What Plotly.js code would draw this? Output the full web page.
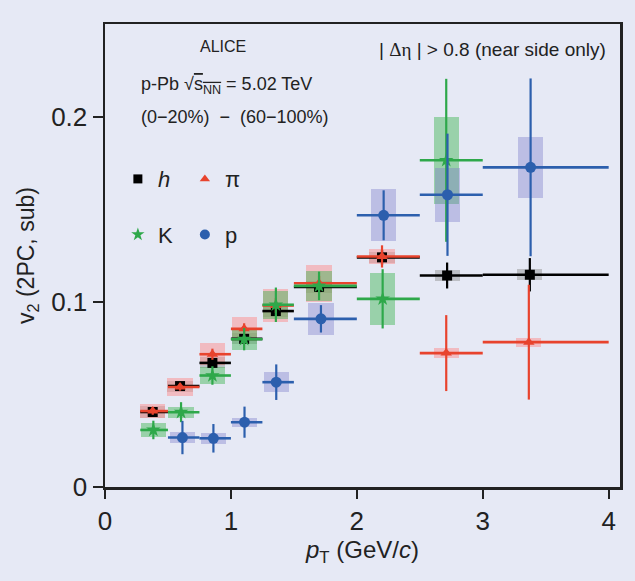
<!DOCTYPE html>
<html>
<head>
<meta charset="utf-8">
<script src="https://cdn.plot.ly/plotly-3.0.1.min.js"></script>
<style>html,body{margin:0;padding:0;background:#e6e9f5;}</style>
</head>
<body>
<div id="chart" style="width:635px;height:581px;"></div>
<script>
// bin edges (GeV/c)
const binLo = [0.28, 0.5, 0.75, 1.0, 1.25, 1.5, 2.0, 2.5, 3.0];
const binHi = [0.5, 0.75, 1.0, 1.25, 1.5, 2.0, 2.5, 3.0, 4.0];

// unidentified hadrons h
const hX    = [0.379, 0.596, 0.853, 1.105, 1.357, 1.70, 2.20, 2.717, 3.374];
const hV2   = [0.0405, 0.0545, 0.067, 0.080, 0.095, 0.108, 0.124, 0.1142, 0.1146];
const hStat = [0.002, 0.002, 0.002, 0.002, 0.002, 0.003, 0.004, 0.007, 0.009];
const hSys  = [0.003, 0.003, 0.003, 0.003, 0.003, 0.003, 0.003, 0.003, 0.003];

// pions
const piX    = [0.379, 0.596, 0.853, 1.105, 1.357, 1.70, 2.20, 2.71, 3.366];
const piV2   = [0.041, 0.054, 0.0717, 0.0854, 0.098, 0.110, 0.1245, 0.0723, 0.0782];
const piStat = [0.002, 0.002, 0.003, 0.003, 0.004, 0.004, 0.006, 0.0205, 0.031];
const piSys  = [0.004, 0.005, 0.006, 0.0065, 0.009, 0.010, 0.004, 0.0027, 0.0025];

// kaons (bins 1..8)
const kX    = [0.384, 0.604, 0.853, 1.105, 1.357, 1.70, 2.205, 2.71];
const kV2   = [0.0308, 0.0404, 0.0602, 0.0798, 0.0984, 0.1086, 0.1016, 0.1764];
const kStat = [0.005, 0.0054, 0.005, 0.006, 0.0093, 0.0077, 0.016, 0.044];
const kSys  = [0.0037, 0.003, 0.0045, 0.006, 0.0076, 0.008, 0.014, 0.0234];

// protons (bins 2..9)
const pX    = [0.615, 0.861, 1.108, 1.36, 1.715, 2.213, 2.72, 3.38];
const pV2   = [0.0267, 0.0263, 0.035, 0.0566, 0.0908, 0.1467, 0.1578, 0.1726];
const pStat = [0.009, 0.0077, 0.0084, 0.0096, 0.0074, 0.0135, 0.033, 0.048];
const pSys  = [0.003, 0.003, 0.0025, 0.0054, 0.0087, 0.014, 0.0147, 0.0164];

const kBinOffset = 0, pBinOffset = 1;
const boxWidth = 0.2;

function sysBars(x, v, s, fill) {
  return {
    type: 'bar', x: x, y: s.map(e => 2 * e), base: v.map((y, i) => y - s[i]),
    width: x.map(() => boxWidth), marker: {color: fill, line: {width: 0}},
    showlegend: false, hoverinfo: 'skip'
  };
}
function points(x, v, st, off, color, symbol, size) {
  return {
    type: 'scatter', mode: 'markers', x: x, y: v, showlegend: false,
    marker: {color: color, symbol: symbol, size: size, line: {width: 0}},
    error_y: {type: 'data', array: st, color: color, thickness: 2.2, width: 0},
    error_x: {type: 'data', symmetric: false,
      array: x.map((xx, i) => binHi[i + off] - xx),
      arrayminus: x.map((xx, i) => xx - binLo[i + off]),
      color: color, thickness: 2.6, width: 0}
  };
}
function legendEntry(name, color, symbol, size, leg) {
  return {type: 'scatter', mode: 'markers', x: [null], y: [null], name: name,
    legend: leg, marker: {color: color, symbol: symbol, size: size}};
}

const cH = '#000000', cPi = '#e8432d', cK = '#2ea84a', cP = '#2c5fad';

const data = [
  sysBars(hX, hV2, hSys, 'rgba(140,140,140,0.45)'),
  sysBars(piX, piV2, piSys, 'rgba(250,150,150,0.55)'),
  sysBars(kX, kV2, kSys, 'rgba(60,180,80,0.45)'),
  sysBars(pX, pV2, pSys, 'rgba(120,120,200,0.38)'),
  points(hX, hV2, hStat, 0, cH, 'square', 10),
  points(piX, piV2, piStat, 0, cPi, 'triangle-up', 10),
  points(kX, kV2, kStat, kBinOffset, cK, 'star', 11),
  points(pX, pV2, pStat, pBinOffset, cP, 'circle', 11),
  legendEntry('<i>h</i>', cH, 'square', 9, 'legend'),
  legendEntry('π', cPi, 'triangle-up', 9, 'legend'),
  legendEntry('K', cK, 'star', 10, 'legend2'),
  legendEntry('p', cP, 'circle', 10, 'legend2')
];

const sans = 'Liberation Sans, Arial, sans-serif';
const axisCommon = {
  showline: true, linecolor: '#222', linewidth: 2.5, mirror: true,
  ticks: 'outside', tickcolor: '#222', tickwidth: 2, showgrid: false, zeroline: false,
  tickfont: {family: sans, size: 26, color: '#222'}
};

const layout = {
  width: 635, height: 581,
  margin: {l: 105, r: 15, t: 24, b: 94},
  paper_bgcolor: '#e6e9f5', plot_bgcolor: '#e6e9f5',
  barmode: 'overlay', bargap: 0,
  font: {family: sans, color: '#222'},
  xaxis: Object.assign({}, axisCommon, {
    range: [0, 4.09], tickvals: [0, 1, 2, 3, 4], ticklen: 9,
    title: {text: '<i>p</i><sub>T</sub> (GeV/<i>c</i>)', standoff: 2,
      font: {family: sans, size: 24, color: '#222'}}
  }),
  yaxis: Object.assign({}, axisCommon, {
    range: [0, 0.25], tickvals: [0, 0.1, 0.2], ticktext: ['0', '0.1', '0.2'], ticklen: 10,
    title: {text: 'v<sub>2</sub> (2PC, sub)', standoff: 10,
      font: {family: sans, size: 23, color: '#222'}}
  }),
  legend: {orientation: 'h', x: 0.025, y: 0.665, xanchor: 'left', yanchor: 'middle',
    bgcolor: 'rgba(0,0,0,0)', entrywidth: 22, font: {family: sans, size: 22, color: '#222'}},
  legend2: {orientation: 'h', x: 0.025, y: 0.545, xanchor: 'left', yanchor: 'middle',
    bgcolor: 'rgba(0,0,0,0)', entrywidth: 22, font: {family: sans, size: 22, color: '#222'}},
  annotations: [
    {text: 'ALICE', xref: 'paper', yref: 'paper', x: 0.229, y: 0.951, xanchor: 'center', yanchor: 'middle',
      showarrow: false, font: {family: sans, size: 16, color: '#222'}},
    {text: 'p-Pb √<span style="text-decoration:overline">s<sub>NN</sub></span> = 5.02 TeV', xref: 'paper', yref: 'paper',
      x: 0.066, y: 0.868, xanchor: 'left', yanchor: 'middle',
      showarrow: false, font: {family: sans, size: 18, color: '#222'}},
    {text: '(0−20%)  −  (60−100%)', xref: 'paper', yref: 'paper', x: 0.066, y: 0.799, xanchor: 'left', yanchor: 'middle',
      showarrow: false, font: {family: sans, size: 18, color: '#222'}},
    {text: '| <span style="font-family:Liberation Serif">Δη</span> | > 0.8 (near side only)', xref: 'paper', yref: 'paper',
      x: 0.977, y: 0.946, xanchor: 'right', yanchor: 'middle',
      showarrow: false, font: {family: sans, size: 19, color: '#222'}}
  ]
};

Plotly.newPlot('chart', data, layout, {displayModeBar: false, staticPlot: true});
</script>
</body>
</html>
